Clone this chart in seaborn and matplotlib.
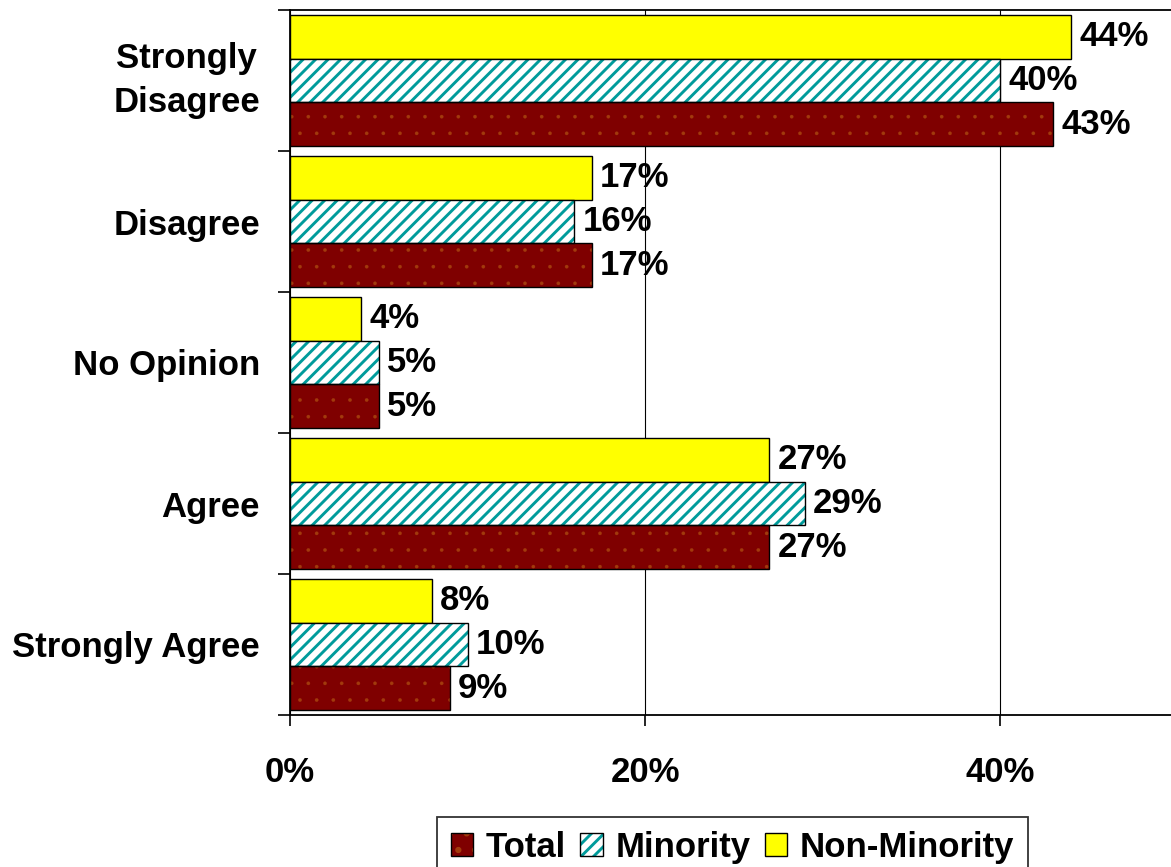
import matplotlib
matplotlib.use("Agg")
import matplotlib.pyplot as plt
import matplotlib.hatch as mhatch
import seaborn as sns
import pandas as pd
from matplotlib.patches import Patch, Rectangle
from matplotlib.ticker import FixedLocator, FuncFormatter

categories = ["Strongly\nDisagree", "Disagree", "No Opinion", "Agree", "Strongly Agree"]
total = [43, 17, 5, 27, 9]
minority = [40, 16, 5, 29, 10]
non_minority = [44, 17, 4, 27, 8]
series_names = ["Non-Minority", "Minority", "Total"]
legend_order = ["Total", "Minority", "Non-Minority"]
x_ticks = [0, 20, 40]

_orig_get_path = mhatch.get_path


def _get_path(hatchpattern, density=6):
    if hatchpattern == "/":
        density = 16
    elif hatchpattern == ".":
        density = 6.4
    return _orig_get_path(hatchpattern, density)


mhatch.get_path = _get_path

sns.set_theme(style="white")
plt.rcParams["font.family"] = ["Liberation Sans", "DejaVu Sans"]
plt.rcParams["font.weight"] = "bold"
plt.rcParams["text.color"] = "black"
plt.rcParams["axes.labelcolor"] = "black"
plt.rcParams["xtick.color"] = "black"
plt.rcParams["ytick.color"] = "black"
plt.rcParams["hatch.linewidth"] = 2.1

FS = 25

rows = []
for name, vals in zip(["Total", "Minority", "Non-Minority"], [total, minority, non_minority]):
    for c, v in zip(categories, vals):
        rows.append({"category": c, "value": v, "series": name})
df = pd.DataFrame(rows)

face = {"Total": "#7F0000", "Minority": "#FFFFFF", "Non-Minority": "#FFFF00"}
hatch = {"Total": ".", "Minority": "/", "Non-Minority": None}
hatch_col = {"Total": "#A23A0C", "Minority": "#009B9B", "Non-Minority": "black"}

fig = plt.figure(figsize=(11.71, 8.67), dpi=100)
ax = fig.add_axes([290 / 1171, 1 - 715 / 867, 887.5 / 1171, 705 / 867])

sns.barplot(data=df, y="category", x="value", hue="series", hue_order=series_names,
            order=categories, orient="h", width=0.936, palette=face, saturation=1,
            edgecolor="black", linewidth=1.0, legend=False, ax=ax, zorder=2)

for name, cont in zip(series_names, ax.containers):
    for p in cont.patches:
        if hatch[name]:
            p.set_hatch(hatch[name])
            p.set_edgecolor(hatch_col[name])
            p.set_linewidth(0)
            if name == "Total" and hasattr(p, "set_hatch_linewidth"):
                p.set_hatch_linewidth(0.2)
            outline = Rectangle(p.get_xy(), p.get_width(), p.get_height(), fill=False,
                                edgecolor="black", linewidth=1.0, zorder=3)
            ax.add_patch(outline)
    ax.bar_label(cont, fmt="%d%%", padding=6, fontsize=FS, fontweight="bold", color="black")

ax.set_xlim(0, 50)
ax.set_ylim(4.5, -0.5)
ax.set_xlabel("")
ax.set_ylabel("")

ax.xaxis.set_major_locator(FixedLocator(x_ticks))
ax.xaxis.set_major_formatter(FuncFormatter(lambda v, pos: f"{int(v)}%"))
ax.tick_params(axis="x", which="major", direction="out", length=8, width=1.2,
               color="black", pad=21.5, labelsize=FS, bottom=True)
ax.set_yticks([i - 0.5 for i in range(len(categories) + 1)], minor=True)
ax.tick_params(axis="y", which="minor", direction="out", length=8.5, width=1.2,
               color="black", left=True)
ax.tick_params(axis="y", which="major", length=0, pad=21.6, labelsize=FS)
for lab in ax.get_yticklabels():
    lab.set_multialignment("center")
    lab.set_linespacing(1.42)
    lab.set_fontweight("bold")
    lab.set_color("black")
    if "\n" in lab.get_text():
        lab.set_verticalalignment("center")
for lab in ax.get_xticklabels():
    lab.set_fontweight("bold")
    lab.set_color("black")

ax.grid(axis="x", which="major", color="black", linewidth=0.8)
ax.set_axisbelow(True)
for s in ax.spines.values():
    s.set_visible(True)
    s.set_color("black")
    s.set_linewidth(1.3)

handles = []
for name in legend_order:
    if hatch[name]:
        h1 = Patch(facecolor=face[name], edgecolor=hatch_col[name], hatch=hatch[name], linewidth=0)
        h2 = Patch(facecolor="none", edgecolor="black", linewidth=1.0)
        handles.append((h1, h2))
    else:
        handles.append(Patch(facecolor=face[name], edgecolor="black", linewidth=1.0))

leg = fig.legend(handles, legend_order, loc="upper left",
                 bbox_to_anchor=(437 / 1171, 1 - 817 / 867), ncol=3,
                 fontsize=FS, frameon=True, fancybox=False, edgecolor="black",
                 handlelength=0.65, handleheight=0.65, handletextpad=0.35,
                 columnspacing=0.42, borderpad=0.4, borderaxespad=0)
leg.get_frame().set_linewidth(1.3)
for t in leg.get_texts():
    t.set_fontweight("bold")
    t.set_color("black")

fig.savefig("out.png", dpi=100)
